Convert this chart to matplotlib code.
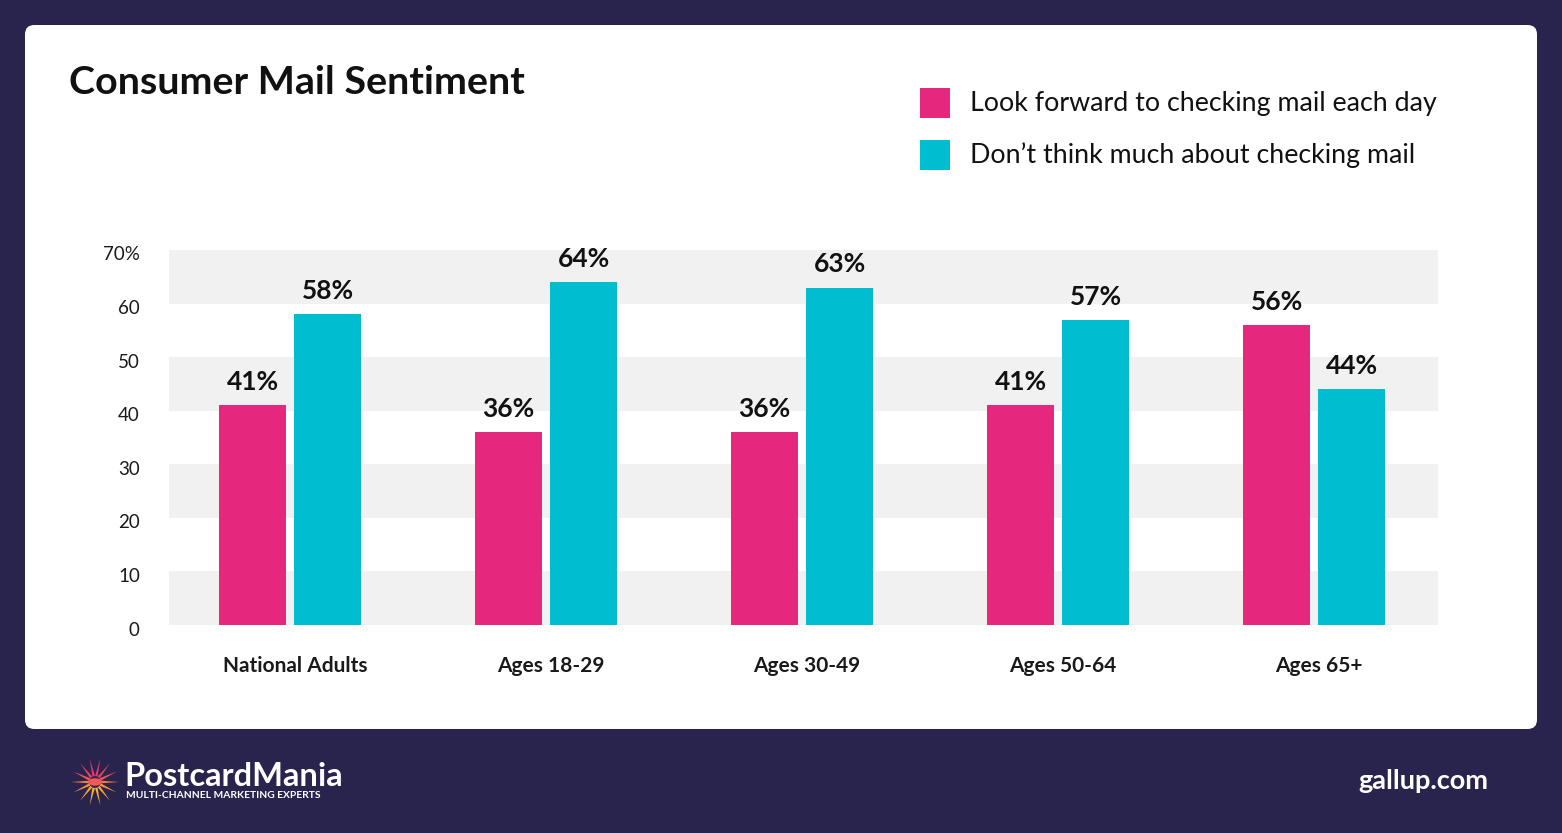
import matplotlib
matplotlib.use("Agg")
import matplotlib.pyplot as plt
from matplotlib.patches import FancyBboxPatch, Rectangle, Polygon
from matplotlib.transforms import ScaledTranslation
import numpy as np

categories = ["National Adults", "Ages 18-29", "Ages 30-49", "Ages 50-64", "Ages 65+"]
look_forward = [41, 36, 36, 41, 56]
dont_think = [58, 64, 63, 57, 44]
series_names = ["Look forward to checking mail each day", "Don\u2019t think much about checking mail"]
yticks = [0, 10, 20, 30, 40, 50, 60, 70]
ytick_labels = ["0", "10", "20", "30", "40", "50", "60", "70%"]

PINK = "#e5287e"
CYAN = "#00bdcf"
NAVY = "#29244d"
FONT = "Lato"

W, H = 1562, 833
fig = plt.figure(figsize=(W / 100, H / 100), dpi=100)
fig.patch.set_facecolor(NAVY)

def fx(px):
    return px / W

def fy(py):
    return 1 - py / H

# white card
card = FancyBboxPatch((fx(25), fy(729)), fx(1537) - fx(25), fy(25) - fy(729),
                      boxstyle="round,pad=0,rounding_size=0.006",
                      transform=fig.transFigure, facecolor="white", edgecolor="none",
                      mutation_aspect=W / H, zorder=-5)
fig.patches.append(card)

ax = fig.add_axes([fx(169), fy(625), fx(1438) - fx(169), fy(250) - fy(625)])
ax.set_zorder(2)
ax.set_facecolor("white")
ax.set_ylim(0, 70)
ax.set_xlim(-0.473, 4.484)

# alternating bands
for lo in range(0, 70, 20):
    ax.axhspan(lo, lo + 10, color="#f1f1f1", zorder=0, lw=0)

x = np.arange(len(categories))
bw = 0.262
off = 0.1465
b1 = ax.bar(x - off, look_forward, bw, color=PINK, zorder=2)
b2 = ax.bar(x + off, dont_think, bw, color=CYAN, zorder=2)
for bars, vals in ((b1, look_forward), (b2, dont_think)):
    for rect, v in zip(bars, vals):
        ax.annotate(f"{v}%", (rect.get_x() + rect.get_width() / 2, v),
                    xytext=(0, 8), textcoords="offset points", ha="center", va="bottom",
                    fontsize=19, fontweight="bold", family=FONT, color="#111111")

for s in ax.spines.values():
    s.set_visible(False)
ax.set_yticks(yticks)
ax.set_yticklabels(ytick_labels, fontsize=13.5, family=FONT, color="#1a1a1a")
ax.tick_params(axis="y", length=0, pad=21)
shift = ScaledTranslation(0, -0.035, fig.dpi_scale_trans)
for lab in ax.get_yticklabels():
    lab.set_transform(lab.get_transform() + shift)
ax.set_xticks(x + 0.02)
ax.set_xticklabels(categories, fontsize=15, fontweight="bold", family=FONT, color="#1a1a1a")
ax.tick_params(axis="x", length=0, pad=22)

# title
fig.text(fx(69), fy(83), "Consumer Mail Sentiment", fontsize=28.4, fontweight="bold",
         family=FONT, color="#111111", va="center", ha="left")

# legend
for i, (name, col) in enumerate(zip(series_names, [PINK, CYAN])):
    top = 88 + i * 52
    fig.patches.append(Rectangle((fx(920), fy(top + 30)), fx(950) - fx(920), fy(top) - fy(top + 30),
                                 transform=fig.transFigure, facecolor=col, edgecolor="none"))
    fig.text(fx(970), fy(top + 15), name, fontsize=19.3, family=FONT, color="#111111",
             va="center", ha="left")

# footer
fig.text(fx(1488), fy(781), "gallup.com", fontsize=19.5, fontweight="bold", family=FONT,
         color="white", ha="right", va="center")
fig.text(fx(124), fy(776), "PostcardMania", fontsize=23.5, fontweight="bold", family=FONT,
         color="white", ha="left", va="center")
fig.text(fx(126), fy(796), "MULTI-CHANNEL MARKETING EXPERTS", fontsize=7.4, fontweight="bold",
         family=FONT, color="white", ha="left", va="center")

# simple flower logo
cx, cy = 95, 782
angles = np.linspace(0, 2 * np.pi, 14, endpoint=False)
cmap = matplotlib.colors.LinearSegmentedColormap.from_list("pm", ["#e8336f", "#f57a3c", "#f9b233"])
for k, a in enumerate(angles):
    r1, r2, w = 6, 24, 0.22
    pts = []
    for rr, aa in ((r1, a - w), (r2, a), (r1, a + w)):
        px = cx + rr * np.cos(aa)
        py = cy - rr * np.sin(aa)
        pts.append((fx(px), fy(py)))
    t = (np.sin(a) * -1 + 1) / 2
    fig.patches.append(Polygon(pts, closed=True, transform=fig.transFigure,
                               facecolor=cmap(t), edgecolor="none"))
fig.patches.append(matplotlib.patches.Circle((fx(cx), fy(cy)), fx(7), transform=fig.transFigure,
                                             facecolor="#ef5a5a", edgecolor="none"))

fig.savefig("out.png", dpi=100, facecolor=NAVY)
